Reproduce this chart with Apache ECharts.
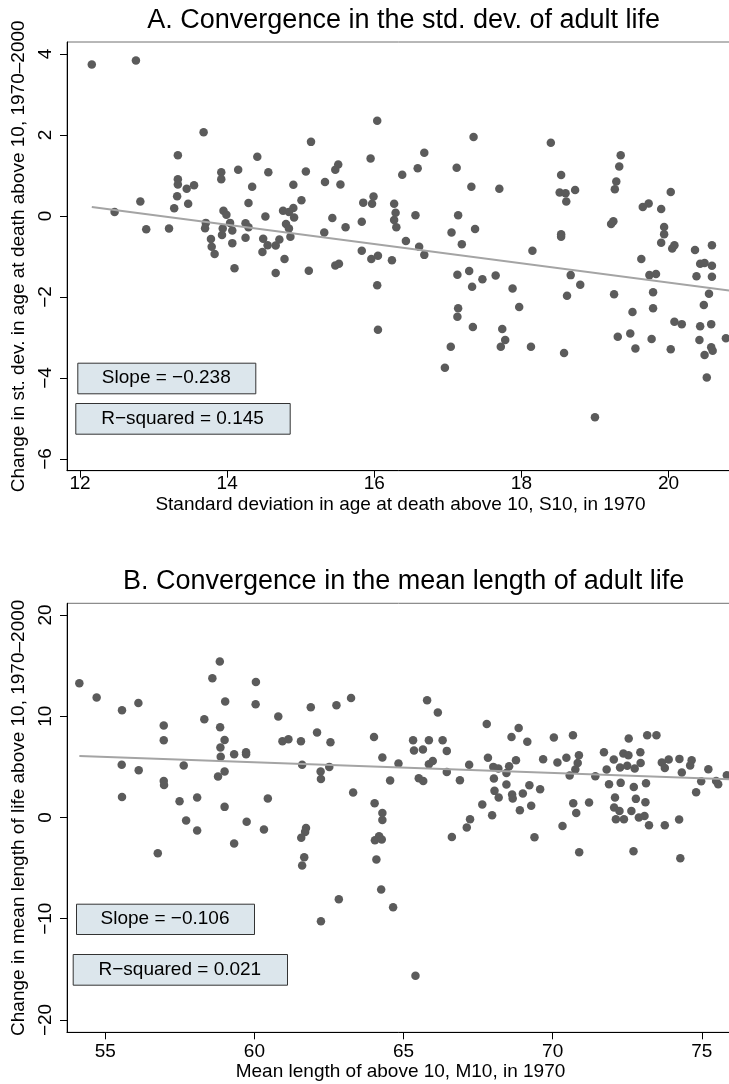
<!DOCTYPE html>
<html>
<head>
<meta charset="utf-8">
<title>Convergence in adult life</title>
<script src="https://cdn.jsdelivr.net/npm/echarts@6.0.0/dist/echarts.min.js"></script>
<style>
    html, body { margin: 0; padding: 0; background: #fff; }
    #chart { width: 729px; height: 1084px; }
</style>
</head>
<body>
<div id="chart"></div>
<script>
// Panel A: S10 in 1970 (x) vs change 1970-2000 (y)
let sd1970 = [
    12.16, 12.76, 13.68, 16.04, 17.35, 15.14, 13.33, 14.41, 15.95, 13.92,
    14.15, 14.56, 15.07, 15.51, 15.47, 13.33, 13.33, 13.92, 13.45, 13.55,
    14.34, 14.90, 15.33, 15.54, 13.32, 12.82, 13.47, 13.28, 14.29, 15.01,
    15.85, 15.99, 15.97, 12.47, 13.95, 13.99, 14.52, 14.76, 14.90, 14.84,
    14.91, 15.43, 15.83, 12.90, 13.21, 13.71, 13.70, 14.04, 13.94, 14.07,
    13.93, 14.25, 14.29, 14.25, 14.80, 14.84, 14.86, 15.32, 15.61, 13.78,
    13.79, 13.83, 14.07, 14.49, 14.55, 14.66, 14.71, 14.48, 14.78, 14.10,
    14.66, 15.11, 15.47, 15.52, 15.83, 15.96, 16.05, 16.04, 16.05,
    18.40, 16.68, 16.38, 16.59, 17.12, 17.32, 17.70, 18.54, 18.52, 18.60,
    18.73, 18.61, 19.35, 19.33, 19.29, 19.27, 19.25, 19.22, 18.54, 18.54,
    20.03, 19.65, 19.73, 19.90, 19.94, 19.94, 19.90, 20.05, 20.08, 20.36,
    20.59, 20.43, 20.49, 20.59, 20.38, 20.59, 19.63, 19.74, 19.83, 19.79,
    20.55, 20.48, 19.79, 19.51, 19.26, 20.08, 20.18, 20.43, 20.58, 20.78,
    19.31, 19.48, 19.77, 20.42, 18.15, 18.67, 18.80, 18.62, 16.27, 16.29,
    16.27, 16.30, 16.56, 17.14, 17.05, 17.37, 17.19, 16.43, 16.61, 16.68,
    16.24, 17.13, 17.29, 17.33, 17.47, 17.65, 17.88, 17.97, 17.14, 17.13,
    17.34, 17.74, 17.78, 17.04, 16.96, 18.13, 18.58, 19.00, 17.72, 19.55,
    20.03, 20.58, 20.60, 20.49, 20.52
];
let sdChange = [
    3.74, 3.84, 2.07, 2.35, 1.95, 1.83, 1.50, 1.46, 1.42, 1.08,
    1.14, 1.08, 1.10, 1.27, 1.14, 0.91, 0.78, 0.91, 0.67, 0.76,
    0.72, 0.77, 0.84, 0.78, 0.49, 0.36, 0.30, 0.19, 0.32, 0.39,
    0.33, 0.48, 0.30, 0.10, 0.13, 0.03, -0.01, 0.13, 0.20, 0.10,
    -0.04, -0.05, -0.14, -0.33, -0.31, -0.17, -0.30, -0.17, -0.31, -0.36,
    -0.47, -0.18, -0.28, -0.54, -0.20, -0.31, -0.51, -0.41, -0.28, -0.57,
    -0.76, -0.94, -0.67, -0.56, -0.72, -0.73, -0.58, -0.89, -1.06, -1.29,
    -1.41, -1.35, -1.22, -1.18, -0.86, -1.06, -0.98, -1.71, -2.81,
    1.81, 1.56, 1.02, 1.18, 1.19, 0.72, 0.67, 1.01, 0.58, 0.56,
    0.64, 0.36, 1.50, 1.22, 0.85, 0.66, -0.13, -0.20, -0.45, -0.51,
    0.59, 0.22, 0.31, 0.17, -0.27, -0.45, -0.66, -0.80, -0.72, -0.84,
    -0.72, -1.18, -1.16, -1.23, -1.49, -1.50, -1.06, -1.46, -1.43, -1.88,
    -1.92, -2.20, -2.28, -2.37, -1.93, -2.61, -2.67, -2.72, -2.67, -3.02,
    -2.98, -2.90, -3.04, -3.06, -0.86, -1.46, -1.70, -1.97, 0.30, 0.08,
    -0.10, -0.28, 0.02, 0.02, -0.41, -0.32, -0.70, -0.62, -0.76, -0.96,
    -1.09, -1.45, -1.36, -1.75, -1.56, -1.47, -1.79, -2.25, -2.28, -2.49,
    -2.74, -2.79, -3.06, -3.23, -3.75, -3.23, -3.38, -4.97, -3.23, -3.27,
    -3.29, -3.24, -3.33, -3.43, -3.99
];

// Panel B: M10 in 1970 (x) vs change 1970-2000 (y)
let m1970 = [
    54.13, 58.84, 58.59, 60.05, 54.71, 55.56, 56.11, 59.02, 60.04, 61.89,
    62.75, 63.24, 56.96, 58.32, 58.85, 60.80, 56.96, 59.00, 58.86, 58.87,
    59.32, 59.72, 59.72, 60.94, 61.14, 61.56, 62.10, 62.55, 64.01, 55.55,
    56.12, 57.63, 58.78, 59.00, 61.60, 62.22, 62.23, 62.51, 64.29, 64.83,
    56.96, 56.97, 64.55, 55.56, 57.49, 58.08, 59.00, 60.45, 63.31, 64.03,
    64.29, 64.29, 57.71, 58.08, 59.74, 60.32, 61.73, 61.70, 61.57, 64.04,
    64.18, 64.27, 56.76, 59.32, 61.67, 61.60, 64.09, 64.25, 64.65, 65.40,
    62.83, 62.23,
    65.79, 66.15, 67.79, 68.86, 68.62, 69.15, 70.04, 70.68, 72.55, 73.17,
    73.48, 65.32, 65.85, 66.31, 65.35, 65.65, 66.45, 65.85, 65.98, 67.20,
    67.83, 68.01, 68.18, 68.54, 68.77, 69.68, 70.16, 70.46, 70.88, 70.84,
    70.76, 71.72, 72.05, 72.37, 72.54, 72.94, 72.95, 72.26, 72.50, 72.75,
    71.81, 73.66, 73.89, 73.76, 74.25, 74.66, 74.61, 75.22, 74.33, 75.84,
    65.51, 65.66, 66.45, 66.89, 68.03, 68.45, 68.45, 69.22, 69.58, 70.57,
    71.43, 71.89, 72.28, 72.72, 73.13, 74.98, 74.81, 75.48, 75.55, 68.05,
    68.19, 68.64, 68.66, 69.00, 67.64, 67.97, 68.90, 69.28, 70.69, 70.79,
    71.22, 72.09, 72.79, 73.11, 72.06, 72.24, 72.64, 72.12, 72.39, 72.89,
    73.08, 73.23, 73.76, 74.24, 67.23, 67.12, 66.62, 69.39, 70.33, 70.89,
    72.71, 74.28
];
let mChange = [
    13.26, 15.41, 13.76, 13.39, 11.85, 10.60, 11.32, 11.46, 11.19, 10.89,
    11.09, 11.81, 9.09, 9.71, 8.92, 9.98, 7.63, 7.66, 6.91, 5.99,
    6.25, 6.45, 6.25, 7.54, 7.73, 7.54, 8.40, 7.44, 7.96, 5.20,
    4.67, 5.14, 4.05, 4.54, 5.20, 4.54, 3.81, 5.00, 5.93, 5.33,
    3.61, 3.22, 3.65, 2.03, 1.61, 1.98, 1.05, 1.88, 2.47, 1.41,
    0.45, -0.24, -0.30, -1.28, -0.43, -1.19, -1.03, -1.42, -2.01, -2.24,
    -1.85, -2.17, -3.53, -2.57, -3.92, -4.74, -4.15, -7.11, -8.86, -15.64,
    -8.07, -10.24,
    11.59, 10.37, 9.24, 8.85, 7.96, 7.47, 7.90, 8.13, 7.80, 8.13,
    8.13, 7.63, 7.63, 7.63, 6.62, 6.72, 6.58, 5.26, 5.59, 5.20,
    5.89, 5.00, 4.84, 5.07, 5.66, 5.76, 5.43, 5.89, 6.15, 5.39,
    4.74, 6.45, 5.73, 6.32, 6.15, 6.45, 5.39, 4.94, 5.10, 4.84,
    4.74, 5.43, 5.73, 4.90, 5.79, 5.66, 5.14, 4.77, 4.44, 4.18,
    3.88, 3.61, 4.50, 3.68, 3.85, 4.40, 3.26, 3.19, 2.80, 4.15,
    4.08, 3.29, 3.42, 3.02, 3.39, 3.59, 2.50, 3.61, 3.29, 2.63,
    1.98, 2.27, 1.88, 2.37, 1.28, 0.23, 0.72, 1.15, 1.41, 0.45,
    1.48, 1.98, 1.84, 1.51, 0.99, 0.65, 0.65, -0.17, -0.17, 0.00,
    0.16, -0.76, -0.76, -0.20, -0.17, -0.99, -1.92, -1.95, -0.83, -3.43,
    -3.33, -4.02
];

let ticksAx = [12, 14, 16, 18, 20];
let ticksAy = [-6, -4, -2, 0, 2, 4];
let ticksBx = [55, 60, 65, 70, 75];
let ticksBy = [-20, -10, 0, 10, 20];

// fitted lines as printed on the chart
let slopeA = -0.238, interceptA = 3.114, r2A = 0.145;
let slopeB = -0.106, interceptB = 11.82, r2B = 0.021;

const FONT = '"Liberation Sans", Arial, Helvetica, sans-serif';
const DOT = '#5b5b5b';

let minus = function (v) {
    return String(v).replace('-', '\u2212');
};

let zip = function (xs, ys) {
    let out = [];
    for (let i = 0; i < xs.length; i++) out.push([xs[i], ys[i]]);
    return out;
};

let fitLine = function (xs, a, b, xmax) {
    let x0 = Math.min.apply(null, xs);
    return [[x0, a + b * x0], [xmax, a + b * xmax]];
};

let mkX = function (idx, min, max, ticks, name, margin, gap) {
    return {
        gridIndex: idx, type: 'value', min: min, max: max,
        name: name, nameLocation: 'middle', nameGap: gap,
        nameTextStyle: { fontFamily: FONT, fontSize: 19, color: '#000' },
        axisLine: { onZero: false, lineStyle: { color: '#000', width: 1 } },
        axisTick: { length: 7, customValues: ticks, lineStyle: { color: '#000' } },
        axisLabel: {
            customValues: ticks, margin: margin, formatter: minus,
            fontFamily: FONT, fontSize: 19, color: '#000'
        },
        splitLine: { show: false }
    };
};

let mkY = function (idx, min, max, ticks, name) {
    return {
        gridIndex: idx, type: 'value', min: min, max: max,
        name: name, nameLocation: 'middle', nameGap: 35,
        nameTextStyle: { fontFamily: FONT, fontSize: 19, color: '#000' },
        axisLine: { onZero: false, lineStyle: { color: '#000', width: 1 } },
        axisTick: { length: 7, customValues: ticks, lineStyle: { color: '#000' } },
        axisLabel: {
            customValues: ticks, margin: 12, rotate: 90, formatter: minus,
            fontFamily: FONT, fontSize: 19, color: '#000'
        },
        splitLine: { show: false }
    };
};

let box = function (x, y, w, h, text) {
    return [{
        type: 'rect', left: x, top: y, z: 100,
        shape: { width: w, height: h },
        style: { fill: '#dce6ec', stroke: '#333', lineWidth: 1 }
    }, {
        type: 'text', x: x + w / 2, y: y + h / 2, z: 101,
        style: {
            text: text, font: '19px ' + FONT, fill: '#000',
            align: 'center', verticalAlign: 'middle'
        }
    }];
};

let heading = function (y, text) {
    return {
        type: 'text', x: 403.7, y: y, z: 100,
        style: {
            text: text, font: '27px ' + FONT, fill: '#000',
            align: 'center', verticalAlign: 'middle'
        }
    };
};

const AXMAX = 20.89, BXMAX = 76.08;

let option = {
    backgroundColor: '#fff',
    animation: false,
    grid: [
        { left: 67, right: -5, top: 42, height: 428.7, show: true, borderColor: '#707070', borderWidth: 1, outerBoundsMode: 'none' },
        { left: 67, right: -5, top: 603.3, height: 429, show: true, borderColor: '#707070', borderWidth: 1, outerBoundsMode: 'none' }
    ],
    xAxis: [
        mkX(0, 11.823, AXMAX, ticksAx, 'Standard deviation in age at death above 10, S10, in 1970', 4, 25),
        mkX(1, 53.716, BXMAX, ticksBx, 'Mean length of above 10, M10, in 1970', 10, 30)
    ],
    yAxis: [
        mkY(0, -6.289, 4.296, ticksAy, 'Change in st. dev. in age at death above 10, 1970\u20132000'),
        mkY(1, -21.215, 21.156, ticksBy, 'Change in mean length of life above 10, 1970\u20132000')
    ],
    series: [
        {
            type: 'scatter', xAxisIndex: 0, yAxisIndex: 0,
            data: zip(sd1970, sdChange), symbolSize: 8.5,
            itemStyle: { color: DOT, opacity: 1 }
        },
        {
            type: 'line', xAxisIndex: 0, yAxisIndex: 0,
            data: fitLine(sd1970, interceptA, slopeA, AXMAX),
            symbol: 'none', silent: true,
            lineStyle: { color: '#a4a4a4', width: 2 }
        },
        {
            type: 'scatter', xAxisIndex: 1, yAxisIndex: 1,
            data: zip(m1970, mChange), symbolSize: 8.5,
            itemStyle: { color: DOT, opacity: 1 }
        },
        {
            type: 'line', xAxisIndex: 1, yAxisIndex: 1,
            data: fitLine(m1970, interceptB, slopeB, BXMAX),
            symbol: 'none', silent: true,
            lineStyle: { color: '#a4a4a4', width: 2 }
        }
    ],
    graphic: [
        heading(20.3, 'A. Convergence in the std. dev. of adult life'),
        heading(582, 'B. Convergence in the mean length of adult life')
    ].concat(
        box(77.3, 362.7, 178, 30.6, 'Slope = ' + minus(slopeA.toFixed(3))),
        box(75.3, 403, 214.4, 30.7, 'R\u2212squared = ' + r2A.toFixed(3)),
        box(76, 903.7, 178, 30.3, 'Slope = ' + minus(slopeB.toFixed(3))),
        box(72.7, 954, 214.3, 30.7, 'R\u2212squared = ' + r2B.toFixed(3))
    )
};

let chart = echarts.init(document.getElementById('chart'));
chart.setOption(option);
</script>
</body>
</html>
